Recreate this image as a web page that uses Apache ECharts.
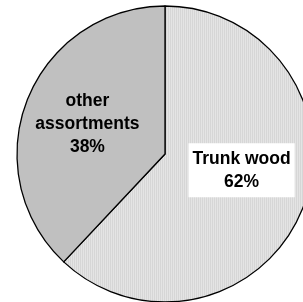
<!DOCTYPE html>
<html>
<head>
<meta charset="utf-8">
<script src="https://cdn.jsdelivr.net/npm/echarts@6/dist/echarts.min.js"></script>
<style>
  html, body { margin: 0; padding: 0; background: #fff; }
  #chart { width: 303px; height: 302px; }
</style>
</head>
<body>
<div id="chart"></div>
<script>
const categories = ['Trunk wood', 'other\nassortments'];
const shares = [62, 38];

// fine vertical stripes for the light slice
const stripe = document.createElement('canvas');
stripe.width = 2;
stripe.height = 2;
const sctx = stripe.getContext('2d');
sctx.fillStyle = '#e4e4e4';
sctx.fillRect(0, 0, 2, 2);
sctx.fillStyle = '#d6d6d6';
sctx.fillRect(0, 0, 1, 2);

const chart = echarts.init(document.getElementById('chart'));

const option = {
  animation: false,
  series: [{
    type: 'pie',
    center: [165, 154],
    radius: 148,
    startAngle: 90,
    clockwise: true,
    silent: true,
    itemStyle: {
      borderColor: '#000',
      borderWidth: 1.3
    },
    label: {
      show: true,
      position: 'inside',
      color: '#000',
      fontFamily: 'Liberation Sans, Arial, sans-serif',
      fontWeight: 'bold',
      fontSize: 17.5,
      lineHeight: 23,
      formatter: p => p.name + '\n' + p.value + '%'
    },
    labelLine: { show: false },
    // nudge labels to where the reference has them
    labelLayout: p => p.dataIndex === 0 ? { dx: 5, dy: -12 } : { dx: -6, dy: -1 },
    data: categories.map((name, i) => ({
      name,
      value: shares[i],
      itemStyle: { color: i === 0 ? { image: stripe, repeat: 'repeat' } : '#c0c0c0' },
      label: i === 0 ? { backgroundColor: '#fff', padding: [3, 4, 5, 4] } : {}
    }))
  }]
};

chart.setOption(option);
</script>
</body>
</html>
